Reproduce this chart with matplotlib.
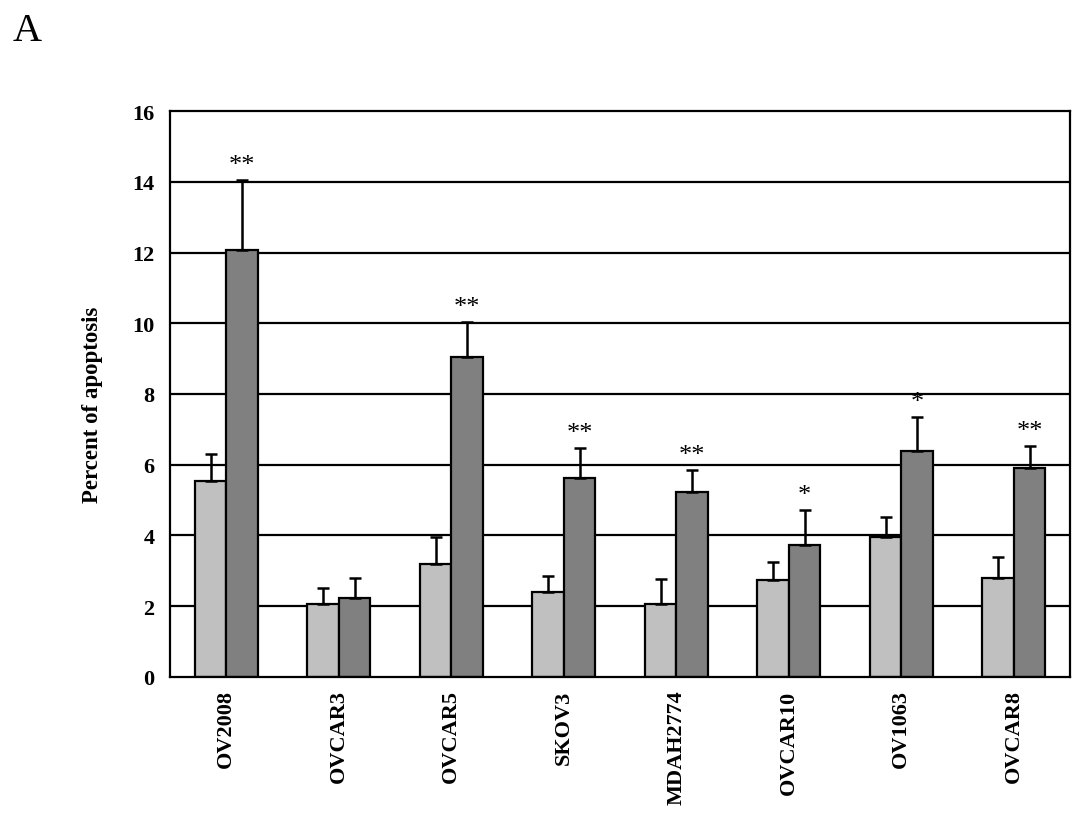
import matplotlib
matplotlib.use("Agg")
import matplotlib.pyplot as plt
import numpy as np

categories = ["OV2008", "OVCAR3", "OVCAR5", "SKOV3", "MDAH2774", "OVCAR10", "OV1063", "OVCAR8"]
control = [5.54, 2.07, 3.19, 2.40, 2.07, 2.74, 3.95, 2.80]
control_err = [0.75, 0.44, 0.76, 0.45, 0.69, 0.52, 0.58, 0.59]
treated = [12.08, 2.24, 9.04, 5.63, 5.23, 3.72, 6.40, 5.91]
treated_err = [1.96, 0.56, 0.99, 0.84, 0.61, 1.00, 0.95, 0.62]
stars = ["**", "", "**", "**", "**", "*", "*", "**"]
yticks = [0, 2, 4, 6, 8, 10, 12, 14, 16]

plt.rcParams['font.family'] = ['Liberation Serif', 'DejaVu Serif']

fig = plt.figure(figsize=(10.87, 8.20), dpi=100)
ax = fig.add_axes([0.1564, 0.1732, 0.8280, 0.6902])

x = np.arange(len(categories))
w = 0.28
ax.set_axisbelow(True)
for yv in yticks[1:-1]:
    ax.axhline(yv, color="black", lw=1.6, zorder=0)

ax.bar(x - w / 2, control, w, color="#c0c0c0", edgecolor="black", lw=1.6, zorder=2)
ax.bar(x + w / 2, treated, w, color="#808080", edgecolor="black", lw=1.6, zorder=2)
ax.errorbar(x - w / 2, control, yerr=[np.zeros(len(control)), control_err], fmt="none",
            ecolor="black", elinewidth=1.8, capsize=4, capthick=1.8, zorder=3)
ax.errorbar(x + w / 2, treated, yerr=[np.zeros(len(treated)), treated_err], fmt="none",
            ecolor="black", elinewidth=1.8, capsize=4, capthick=1.8, zorder=3)

for xi, t, e, s in zip(x, treated, treated_err, stars):
    if s:
        ax.text(xi + w / 2, t + e + 0.12, s, ha="center", va="bottom", fontsize=19)

ax.set_xlim(-0.5, len(categories) - 0.5)
ax.set_ylim(0, 16)
ax.set_yticks(yticks)
ax.set_yticklabels([str(v) for v in yticks], fontsize=16, fontweight="bold")
ax.set_xticks(x)
ax.set_xticklabels(categories, rotation=90, fontsize=16, fontweight="bold", va="top")
ax.tick_params(axis="y", length=0, pad=11)
ax.tick_params(axis="x", length=0, pad=9)
for sp in ax.spines.values():
    sp.set_linewidth(1.6)
    sp.set_color("black")
ax.set_ylabel("Percent of apoptosis", fontsize=16.5, fontweight="bold")
ax.yaxis.set_label_coords(-0.075, 0.482)

fig.text(0.012, 0.95, "A", fontsize=29, ha="left", va="baseline")

fig.savefig("out.png", dpi=100)
